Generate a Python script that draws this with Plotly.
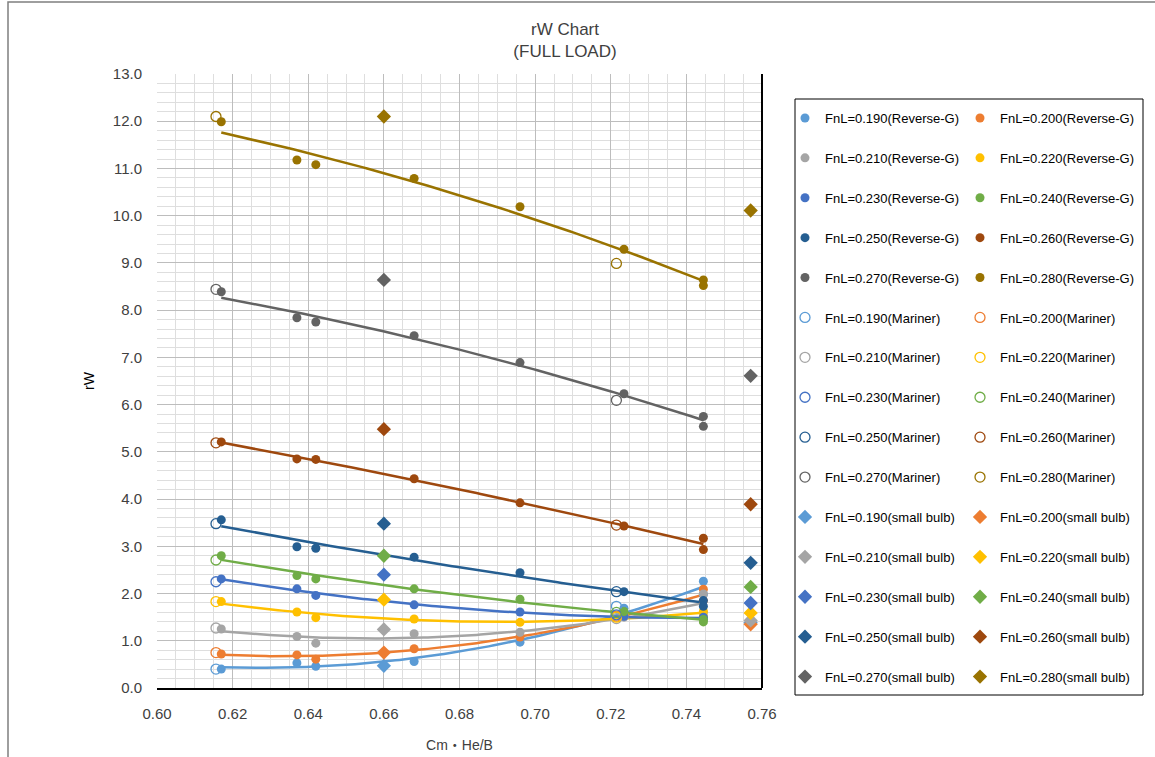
import numpy as np
import plotly.graph_objects as go

# ---------------- data ----------------
fnl = ["0.190", "0.200", "0.210", "0.220", "0.230", "0.240", "0.250", "0.260", "0.270", "0.280"]
colors = ["#5B9BD5", "#ED7D31", "#A5A5A5", "#FFC000", "#4472C4",
          "#70AD47", "#255E91", "#9E480E", "#636363", "#997300"]

# Reverse-G
rg_x = [0.617, 0.637, 0.642, 0.668, 0.696, 0.7235, 0.7445, 0.7445]
rg_190 = [0.40, 0.53, 0.46, 0.56, 0.97, 1.69, 2.26, 1.98]
rg_200 = [0.72, 0.70, 0.61, 0.83, 1.08, 1.55, 2.09, 1.85]
rg_210 = [1.25, 1.09, 0.95, 1.15, 1.18, 1.50, 1.99, 1.60]
rg_220 = [1.83, 1.61, 1.49, 1.46, 1.39, 1.55, 1.62, 1.52]
rg_230 = [2.31, 2.10, 1.96, 1.76, 1.61, 1.52, 1.50, 1.45]
rg_240 = [2.80, 2.38, 2.31, 2.10, 1.88, 1.62, 1.45, 1.40]
rg_250 = [3.56, 2.99, 2.96, 2.77, 2.44, 2.04, 1.85, 1.73]
rg_260 = [5.21, 4.85, 4.84, 4.43, 3.92, 3.43, 3.17, 2.93]
rg_270 = [8.39, 7.84, 7.75, 7.46, 6.89, 6.23, 5.75, 5.54]
rg_280 = [11.99, 11.18, 11.08, 10.79, 10.19, 9.29, 8.64, 8.52]
rg_all = [rg_190, rg_200, rg_210, rg_220, rg_230, rg_240, rg_250, rg_260, rg_270, rg_280]

# Mariner
mar_x = [0.6156, 0.7215]
mar_y = [[0.40, 1.73], [0.75, 1.52], [1.27, 1.47], [1.83, 1.50], [2.25, 1.55],
         [2.71, 1.60], [3.48, 2.04], [5.19, 3.45], [8.44, 6.09], [12.10, 8.99]]

# small bulb
sb_x = [0.660, 0.757]
sb_y = [[0.47, 1.38], [0.75, 1.35], [1.24, 1.43], [1.87, 1.59], [2.40, 1.80],
        [2.80, 2.14], [3.48, 2.65], [5.48, 3.89], [8.64, 6.61], [12.10, 10.11]]

# ---------------- geometry helpers (pixel -> paper) ----------------
W, H = 1155, 757
L, R, T, B = 157, 762, 74, 688
def px(p):
    return (p - L) / (R - L)
def py(p):
    return (B - p) / (B - T)

FONT = "Liberation Sans, Arial, Noto Sans CJK JP, sans-serif"
TXT = "#404040"

fig = go.Figure()

# trendlines (2nd order polynomial fit of Reverse-G data)
for i, ys in enumerate(rg_all):
    coef = np.polyfit(rg_x, ys, 2)
    xs = np.linspace(min(rg_x), max(rg_x), 120)
    fig.add_trace(go.Scatter(x=xs, y=np.polyval(coef, xs), mode="lines",
                             line=dict(color=colors[i], width=2.5),
                             showlegend=False, hoverinfo="skip"))

def leg_for(i):
    return "legend" if i % 2 == 0 else "legend2"

for i, ys in enumerate(rg_all):
    fig.add_trace(go.Scatter(x=rg_x, y=ys, mode="markers",
                             name=f"FnL={fnl[i]}(Reverse-G)",
                             marker=dict(symbol="circle", size=9, color=colors[i]),
                             legend=leg_for(i), legendgroup=f"rg{i}"))
for i, ys in enumerate(mar_y):
    fig.add_trace(go.Scatter(x=mar_x, y=ys, mode="markers",
                             name=f"FnL={fnl[i]}(Mariner)",
                             marker=dict(symbol="circle-open", size=10, color=colors[i],
                                         line=dict(width=1.3)),
                             legend=leg_for(i), legendgroup=f"m{i}"))
for i, ys in enumerate(sb_y):
    fig.add_trace(go.Scatter(x=sb_x, y=ys, mode="markers",
                             name=f"FnL={fnl[i]}(small bulb)",
                             marker=dict(symbol="diamond", size=11, color=colors[i]),
                             legend=leg_for(i), legendgroup=f"s{i}"))

legend_common = dict(orientation="v", xref="paper", yref="paper",
                     yanchor="top", y=py(103), bgcolor="rgba(0,0,0,0)",
                     font=dict(family=FONT, size=13, color="#000000"),
                     tracegroupgap=20, itemsizing="trace", traceorder="grouped")

fig.update_layout(
    width=W, height=H,
    margin=dict(l=L, r=W - R, t=T, b=H - B, autoexpand=False),
    paper_bgcolor="white", plot_bgcolor="white",
    showlegend=True,
    title=dict(text="rW Chart<br>(FULL LOAD)", x=565 / W, xref="container", xanchor="center",
               y=1 - 35 / H, yref="container", yanchor="middle",
               font=dict(family=FONT, size=17, color=TXT)),
    legend=dict(**legend_common, x=px(785), xanchor="left"),
    legend2=dict(**legend_common, x=px(960), xanchor="left"),
    xaxis=dict(range=[0.60, 0.76], tick0=0.60, dtick=0.02, tickformat=".2f",
               showgrid=True, gridcolor="#BDBDBD", gridwidth=1,
               minor=dict(dtick=0.005, tick0=0.60, showgrid=True, gridcolor="#DEDEDE",
                          gridwidth=1, ticks=""),
               showline=True, linecolor="#000000", linewidth=2, zeroline=False,
               ticks="", ticklabelstandoff=11, automargin=False,
               tickfont=dict(family=FONT, size=15, color=TXT),
               title=dict(text="Cm・He/B", standoff=19, font=dict(family=FONT, size=14, color=TXT))),
    yaxis=dict(range=[0, 13], tick0=0, dtick=1, tickformat=".1f",
               showgrid=True, gridcolor="#BDBDBD", gridwidth=1,
               minor=dict(dtick=0.2, tick0=0, showgrid=True, gridcolor="#DEDEDE",
                          gridwidth=1, ticks=""),
               showline=False, zeroline=False, ticks="", ticklabelstandoff=14, automargin=False,
               tickfont=dict(family=FONT, size=15, color=TXT),
               title=dict(text="rW", standoff=14, font=dict(family=FONT, size=14, color="#000000"))),
    shapes=[
        # right border of plot area
        dict(type="line", xref="paper", yref="paper", x0=1, x1=1, y0=0, y1=1,
             line=dict(color="#000000", width=2)),
        # legend frame
        dict(type="rect", xref="paper", yref="paper", x0=px(795), x1=px(1143), y0=py(695), y1=py(99),
             line=dict(color="#000000", width=1), layer="below"),
        # outer chart frame
        dict(type="rect", xref="paper", yref="paper", x0=px(8), x1=px(1160), y0=py(765), y1=py(2),
             line=dict(color="#7F7F7F", width=1.5), layer="below"),
    ],
)

fig.write_html("out.html")
